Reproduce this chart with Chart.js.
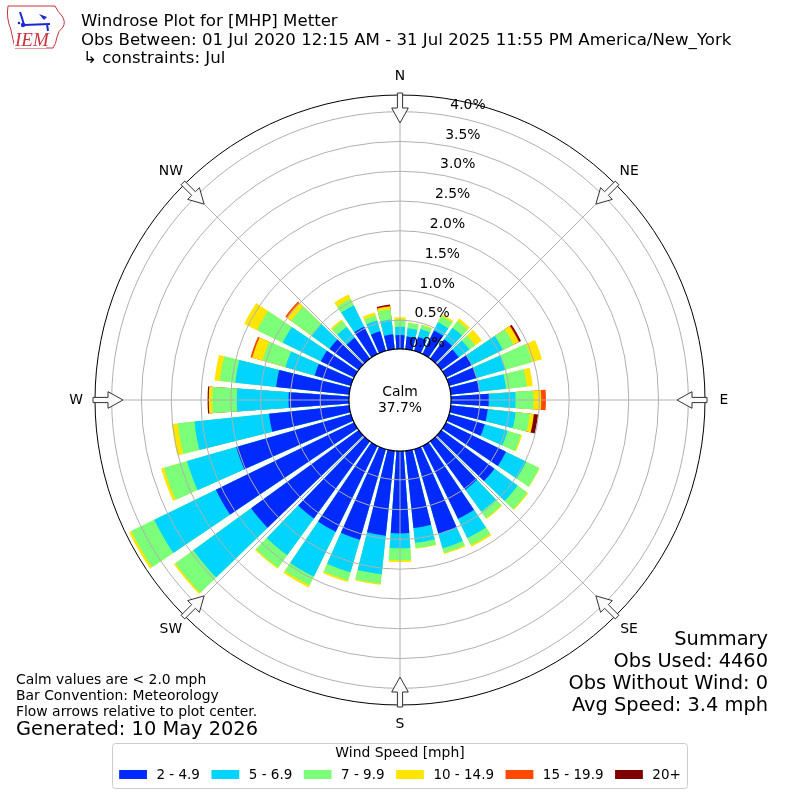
<!DOCTYPE html>
<html lang="en">
<head>
<meta charset="UTF-8">
<title>Windrose Plot for [MHP] Metter</title>
<script src="https://cdn.jsdelivr.net/npm/chart.js"></script>
<style>
  body { margin: 0; background: #fff; }
  canvas { display: block; }
</style>
</head>
<body>
<canvas id="rose" width="800" height="800"></canvas>
<script>
// direction bins (degrees, meteorological, where wind comes from)
const directions = [0, 10, 20, 30, 40, 50, 60, 70, 80, 90, 100, 110, 120, 130, 140, 150, 160, 170,
                    180, 190, 200, 210, 220, 230, 240, 250, 260, 270, 280, 290, 300, 310, 320, 330, 340, 350];
const speedBins = ["2 - 4.9", "5 - 6.9", "7 - 9.9", "10 - 14.9", "15 - 19.9", "20+"];

// percent of all observations, per direction bin
const spd2to5   = [0.25, 0.23, 0.26, 0.46, 0.42, 0.38, 0.50, 0.50, 0.50, 0.65, 0.64, 0.64, 1.14, 1.12, 1.02, 1.38, 1.50, 1.32,
                   1.40, 1.45, 1.60, 1.62, 1.62, 2.25, 2.60, 2.02, 1.37, 1.03, 1.25, 0.65, 0.64, 0.62, 0.45, 0.53, 0.36, 0.27];
const spd5to7   = [0.14, 0.14, 0.14, 0.15, 0.24, 0.22, 0.58, 0.50, 0.45, 0.45, 0.47, 0.40, 0.38, 0.48, 0.46, 0.36, 0.25, 0.25,
                   0.25, 0.65, 0.57, 0.84, 0.76, 1.20, 1.15, 0.86, 1.26, 0.87, 0.69, 0.51, 0.71, 0.37, 0.23, 0.40, 0.19, 0.25];
const spd7to10  = [0.12, 0.09, 0.07, 0.12, 0.14, 0.12, 0.20, 0.47, 0.35, 0.30, 0.24, 0.23, 0.24, 0.20, 0.13, 0.13, 0.08, 0.09,
                   0.20, 0.16, 0.14, 0.16, 0.26, 0.37, 0.43, 0.40, 0.28, 0.41, 0.26, 0.40, 0.48, 0.43, 0.12, 0.12, 0.09, 0.17];
const spd10to15 = [0.04, 0.01, 0.01, 0.03, 0.05, 0.14, 0.10, 0.17, 0.10, 0.13, 0.07, 0.02, 0.01, 0.02, 0.02, 0.03, 0.02, 0.01,
                   0.03, 0.02, 0.03, 0.04, 0.02, 0.03, 0.04, 0.05, 0.10, 0.06, 0.09, 0.18, 0.24, 0.09, 0.03, 0.08, 0.05, 0.05];
const spd15to20 = [0, 0, 0, 0, 0, 0, 0.01, 0, 0, 0.08, 0, 0, 0, 0, 0, 0, 0, 0,
                   0, 0, 0, 0, 0, 0, 0, 0, 0, 0, 0, 0.03, 0, 0.03, 0, 0, 0, 0.01];
const spd20up   = [0, 0, 0, 0, 0, 0, 0.03, 0, 0, 0, 0.07, 0, 0, 0, 0, 0, 0, 0,
                   0, 0, 0, 0, 0, 0, 0, 0, 0, 0.02, 0, 0, 0, 0, 0, 0, 0, 0.02];

const calmPct = 37.7;
const ringTicks = [0.0, 0.5, 1.0, 1.5, 2.0, 2.5, 3.0, 3.5, 4.0];
const compassNames = ["N", "NE", "E", "SE", "S", "SW", "W", "NW"];
const compassDegs = [0, 45, 90, 135, 180, 225, 270, 315];

const titleLines = ["Windrose Plot for [MHP] Metter",
                    "Obs Between: 01 Jul 2020 12:15 AM - 31 Jul 2025 11:55 PM America/New_York",
                    "\u21b3 constraints: Jul"];
const noteLines = ["Calm values are < 2.0 mph", "Bar Convention: Meteorology", "Flow arrows relative to plot center."];
const generatedText = "Generated: 10 May 2026";
const summaryLines = ["Summary", "Obs Used: 4460", "Obs Without Wind: 0", "Avg Speed: 3.4 mph"];

const binColors = ["rgb(0,42,255)", "rgb(0,212,255)", "rgb(124,255,121)", "rgb(255,229,0)", "rgb(255,72,0)", "rgb(127,0,0)"];

// radial range: 0% sits on the calm circle
const R_MIN = -0.84;
const R_MAX = 4.28;
const BAR_DEG = 8;
const GAP_DEG = 2;
const FONT = '"DejaVu Sans"';

Chart.defaults.font.family = FONT;

const bins = [spd2to5, spd5to7, spd7to10, spd10to15, spd15to20, spd20up];

// each dataset is cumulative up to its speed class; gaps between bars are empty arcs
const labels = [];
directions.forEach(d => { labels.push(d + "\u00b0"); labels.push(""); });

const datasets = bins.map((bin, k) => {
    const data = [];
    directions.forEach((d, i) => {
        let sum = 0;
        for (let j = 0; j <= k; j++) sum += bins[j][i];
        data.push(bin[i] > 0 ? +sum.toFixed(3) : R_MIN);
        data.push(R_MIN);
    });
    return {
        label: speedBins[k],
        data: data,
        backgroundColor: binColors[k],
        borderWidth: 0,
        angle: c => (c.dataIndex % 2 ? GAP_DEG : BAR_DEG)
    };
});

function txt(ctx, s, x, y, size, align, base, color, font) {
    ctx.font = size + "px " + (font || FONT);
    ctx.textAlign = align || "left";
    ctx.textBaseline = base || "middle";
    ctx.fillStyle = color || "#000";
    ctx.fillText(s, x, y);
}

function drawLogo(ctx) {
    ctx.save();
    // state outline
    ctx.strokeStyle = "#c8323c";
    ctx.lineWidth = 1;
    ctx.beginPath();
    ctx.moveTo(8, 6);
    ctx.lineTo(55, 6);
    ctx.quadraticCurveTo(58, 12, 62, 16);
    ctx.quadraticCurveTo(66, 22, 63, 27);
    ctx.quadraticCurveTo(58, 31, 57, 37);
    ctx.quadraticCurveTo(56, 44, 53, 48);
    ctx.lineTo(15, 48);
    ctx.quadraticCurveTo(13, 40, 11, 30);
    ctx.quadraticCurveTo(6, 18, 8, 6);
    ctx.stroke();
    // wind vane symbol
    ctx.strokeStyle = "#1a2ad0";
    ctx.fillStyle = "#1a2ad0";
    ctx.lineWidth = 2;
    ctx.beginPath();
    ctx.moveTo(24, 25); ctx.lineTo(50, 24);
    ctx.moveTo(20, 12); ctx.lineTo(22, 18); ctx.lineTo(24, 25);
    ctx.moveTo(47, 24); ctx.lineTo(48, 31);
    ctx.stroke();
    ctx.beginPath();
    ctx.moveTo(39, 14); ctx.lineTo(47, 17); ctx.lineTo(44, 20); ctx.closePath();
    ctx.fill();
    ctx.beginPath(); ctx.arc(23, 25, 2.2, 0, Math.PI * 2); ctx.fill();
    ctx.beginPath(); ctx.arc(19, 23, 1.3, 0, Math.PI * 2); ctx.fill();
    ctx.restore();
    ctx.font = 'italic 19px "Liberation Serif"';
    ctx.textAlign = "left";
    ctx.textBaseline = "alphabetic";
    ctx.fillStyle = "#fff";
    ctx.fillRect(14, 30, 32, 18);
    ctx.fillStyle = "#c8323c";
    ctx.fillText("IEM", 15, 46);
}

const roseDecor = {
    id: "roseDecor",
    afterDraw(chart) {
        const ctx = chart.ctx;
        const s = chart.scales.r;
        const cx = s.xCenter, cy = s.yCenter;
        const R = s.getDistanceFromCenterForValue(R_MAX);
        const toXY = (deg, r, w) => {
            const a = (deg - 90) * Math.PI / 180;
            return [cx + r * Math.cos(a) - (w || 0) * Math.sin(a), cy + r * Math.sin(a) + (w || 0) * Math.cos(a)];
        };

        // spokes
        ctx.save();
        ctx.strokeStyle = "#b0b0b0";
        ctx.lineWidth = 1;
        compassDegs.forEach(d => {
            const p = toXY(d, R);
            ctx.beginPath(); ctx.moveTo(cx, cy); ctx.lineTo(p[0], p[1]); ctx.stroke();
        });

        // calm circle
        const r0 = s.getDistanceFromCenterForValue(0);
        ctx.beginPath();
        ctx.arc(cx, cy, r0 + 1, 0, Math.PI * 2);
        ctx.fillStyle = "#fff";
        ctx.fill();
        ctx.strokeStyle = "#000";
        ctx.lineWidth = 1.2;
        ctx.stroke();

        // inward flow arrows at the rim
        const rTail = R + 2, rNeck = R - 13, rTip = R - 28;
        compassDegs.forEach(d => {
            const pts = [[rTail, -2.6], [rNeck, -2.6], [rNeck, -8.3], [rTip, 0], [rNeck, 8.3], [rNeck, 2.6], [rTail, 2.6]]
                .map(q => toXY(d, q[0], q[1]));
            ctx.beginPath();
            pts.forEach((p, i) => (i ? ctx.lineTo(p[0], p[1]) : ctx.moveTo(p[0], p[1])));
            ctx.closePath();
            ctx.fillStyle = "#fafafa";
            ctx.fill();
            ctx.strokeStyle = "#333";
            ctx.lineWidth = 1;
            ctx.stroke();
        });
        ctx.restore();

        // compass labels
        compassNames.forEach((n, i) => {
            const p = toXY(compassDegs[i], R + 19);
            txt(ctx, n, p[0], p[1], 13.9, "center", "middle");
        });

        // ring labels
        ringTicks.forEach(v => {
            const r = s.getDistanceFromCenterForValue(v);
            const x = cx + 27 + (r - r0) * 0.172;
            txt(ctx, v.toFixed(1) + "%", x, cy - r - 6.5, 13.9, "center", "middle");
        });

        // calm value
        txt(ctx, "Calm", cx, cy - 8, 13.9, "center", "middle");
        txt(ctx, calmPct.toFixed(1) + "%", cx, cy + 8, 13.9, "center", "middle");

        // header
        drawLogo(ctx);
        txt(ctx, titleLines[0], 81, 26, 16.6, "left", "alphabetic");
        txt(ctx, titleLines[1], 81, 44.5, 16.6, "left", "alphabetic");
        txt(ctx, titleLines[2], 83, 63, 16.6, "left", "alphabetic");

        // notes bottom left
        noteLines.forEach((t, i) => txt(ctx, t, 16, 680 + i * 16, 13.9, "left", "middle"));
        txt(ctx, generatedText, 16, 730, 19.4, "left", "middle");

        // summary bottom right
        summaryLines.forEach((t, i) => txt(ctx, t, 768, 640 + i * 22, 19.4, "right", "middle"));

        // legend
        ctx.save();
        ctx.beginPath();
        ctx.roundRect(112.5, 743.5, 575, 45, 3);
        ctx.fillStyle = "rgba(255,255,255,0.8)";
        ctx.fill();
        ctx.strokeStyle = "#cccccc";
        ctx.lineWidth = 1;
        ctx.stroke();
        ctx.restore();
        txt(ctx, "Wind Speed [mph]", 400, 753.5, 13.9, "center", "middle");
        const HANDLE = 27.8, PAD = 9.5, COL = 11.5;
        ctx.font = "13.5px " + FONT;
        const widths = chart.data.datasets.map(ds => ctx.measureText(ds.label).width);
        const total = widths.reduce((a, w) => a + HANDLE + PAD + w, 0) + COL * (widths.length - 1);
        let x = 400 - total / 2;
        chart.data.datasets.forEach((ds, k) => {
            ctx.fillStyle = ds.backgroundColor;
            ctx.fillRect(x, 770, HANDLE, 9);
            txt(ctx, ds.label, x + HANDLE + PAD, 775, 13.5, "left", "middle");
            x += HANDLE + PAD + widths[k] + COL;
        });
    }
};

new Chart(document.getElementById("rose"), {
    type: "polarArea",
    data: { labels: labels, datasets: datasets },
    options: {
        responsive: false,
        devicePixelRatio: 1,
        animation: false,
        events: [],
        layout: { padding: 95 },
        plugins: {
            legend: { display: false },
            tooltip: { enabled: false }
        },
        scales: {
            r: {
                min: R_MIN,
                max: R_MAX,
                startAngle: -BAR_DEG / 2,
                z: 1,
                ticks: { display: false },
                angleLines: { display: false },
                pointLabels: { display: false },
                grid: {
                    z: 1,
                    circular: true,
                    lineWidth: 1,
                    color: c => (c.tick && c.tick.value >= R_MAX - 1e-6 ? "#000" : "#b0b0b0")
                },
                afterBuildTicks: scale => {
                    scale.ticks = ringTicks.filter(v => v > 0).concat([R_MAX]).map(v => ({ value: v }));
                }
            }
        }
    },
    plugins: [roseDecor]
});
</script>
</body>
</html>
